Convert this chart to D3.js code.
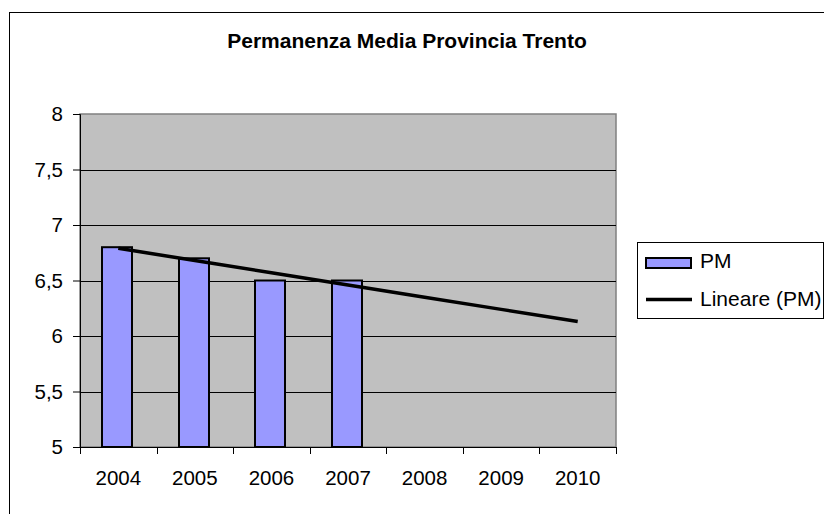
<!DOCTYPE html>
<html>
<head>
<meta charset="utf-8">
<script src="https://cdn.jsdelivr.net/npm/d3@7"></script>
<style>
  body { margin: 0; background: #fff; }
  svg { display: block; font-family: "Liberation Sans", Arial, sans-serif; }
</style>
</head>
<body>
<div id="chart"></div>
<script>
"use strict"

const years = ["2004", "2005", "2006", "2007", "2008", "2009", "2010"];
const pmYears = ["2004", "2005", "2006", "2007"];
const pmValues = [6.8, 6.7, 6.5, 6.5];
const yTicks = [5, 5.5, 6, 6.5, 7, 7.5, 8];

const W = 824, H = 514;
const plot = { left: 80, right: 616, top: 114, bottom: 447 };
const tickFont = 20.5;

const svg = d3.select("#chart").append("svg")
    .attr("width", W)
    .attr("height", H);

// outer chart border
svg.append("rect")
    .attr("x", 9.5).attr("y", 12.5)
    .attr("width", 830).attr("height", 520)
    .attr("fill", "#fff")
    .attr("stroke", "#000")
    .attr("stroke-width", 1);

svg.append("text")
    .attr("x", 407).attr("y", 48)
    .attr("text-anchor", "middle")
    .attr("font-size", 21)
    .attr("font-weight", "bold")
    .text("Permanenza Media Provincia Trento");

const x = d3.scaleBand()
    .domain(years)
    .range([plot.left, plot.right]);

const y = d3.scaleLinear()
    .domain([5, 8])
    .range([plot.bottom, plot.top]);

// plot area
svg.append("rect")
    .attr("x", plot.left).attr("y", plot.top)
    .attr("width", plot.right - plot.left)
    .attr("height", plot.bottom - plot.top)
    .attr("fill", "#C0C0C0")
    .attr("stroke", "#808080")
    .attr("stroke-width", 1.5);

// gridlines
svg.append("g")
    .selectAll("line")
    .data(yTicks.filter(d => d > 5 && d < 8))
    .join("line")
    .attr("x1", plot.left).attr("x2", plot.right)
    .attr("y1", d => Math.round(y(d)) + 0.5)
    .attr("y2", d => Math.round(y(d)) + 0.5)
    .attr("stroke", "#000")
    .attr("stroke-width", 1);

// bars
const barW = 30;
svg.append("g")
    .selectAll("rect")
    .data(pmYears.map((d, i) => ({ year: d, value: pmValues[i] })))
    .join("rect")
    .attr("x", d => Math.round(x(d.year) + x.bandwidth() / 2 - barW / 2 - 1))
    .attr("y", d => y(d.value))
    .attr("width", barW)
    .attr("height", d => y(5) - y(d.value))
    .attr("fill", "#9999FF")
    .attr("stroke", "#000")
    .attr("stroke-width", 2);

// linear trendline (least squares over PM)
const mx = d3.mean(pmValues, (d, i) => i);
const my = d3.mean(pmValues);
const slope = d3.sum(pmValues, (d, i) => (i - mx) * (d - my)) / d3.sum(pmValues, (d, i) => (i - mx) * (i - mx));
const intercept = my - slope * mx;

svg.append("path")
    .datum(years.map((d, i) => ({ year: d, value: intercept + slope * i })))
    .attr("fill", "none")
    .attr("stroke", "#000")
    .attr("stroke-width", 3.5)
    .attr("d", d3.line()
        .x(d => x(d.year) + x.bandwidth() / 2)
        .y(d => y(d.value)));

// y axis
const yAxis = d3.axisLeft(y)
    .tickValues(yTicks)
    .tickSize(7)
    .tickPadding(10)
    .tickFormat(d => String(d).replace(".", ","));

const gy = svg.append("g")
    .attr("transform", `translate(${plot.left},0)`)
    .call(yAxis);
gy.select(".domain").attr("stroke", "#000");
gy.selectAll(".tick line").attr("stroke", "#000");
gy.selectAll(".tick text")
    .attr("font-size", tickFont)
    .attr("fill", "#000")
    .attr("font-family", "Liberation Sans, Arial, sans-serif");

// x axis
const xAxis = d3.axisBottom(x)
    .tickSize(0)
    .tickPadding(23);

const gx = svg.append("g")
    .attr("transform", `translate(0,${plot.bottom})`)
    .call(xAxis);
gx.select(".domain").attr("stroke", "#000");
gx.selectAll(".tick text")
    .attr("font-size", tickFont)
    .attr("fill", "#000")
    .attr("font-family", "Liberation Sans, Arial, sans-serif");

// category boundary ticks
gx.append("g")
    .selectAll("line")
    .data(years.map(d => x(d)).concat([plot.right]))
    .join("line")
    .attr("x1", d => Math.round(d) + 0.5)
    .attr("x2", d => Math.round(d) + 0.5)
    .attr("y1", 0).attr("y2", 7)
    .attr("stroke", "#000");

// legend
const legend = svg.append("g").attr("transform", "translate(637,242)");
legend.append("rect")
    .attr("x", 0.5).attr("y", 0.5)
    .attr("width", 186).attr("height", 76)
    .attr("fill", "#fff")
    .attr("stroke", "#000");

legend.append("rect")
    .attr("x", 9).attr("y", 16)
    .attr("width", 45).attr("height", 10)
    .attr("fill", "#9999FF")
    .attr("stroke", "#000")
    .attr("stroke-width", 2);

legend.append("text")
    .attr("x", 63).attr("y", 26)
    .attr("font-size", 21)
    .text("PM");

legend.append("line")
    .attr("x1", 9).attr("x2", 55)
    .attr("y1", 57.5).attr("y2", 57.5)
    .attr("stroke", "#000")
    .attr("stroke-width", 3.5);

legend.append("text")
    .attr("x", 63).attr("y", 64)
    .attr("font-size", 21)
    .text("Lineare (PM)");
</script>
</body>
</html>
